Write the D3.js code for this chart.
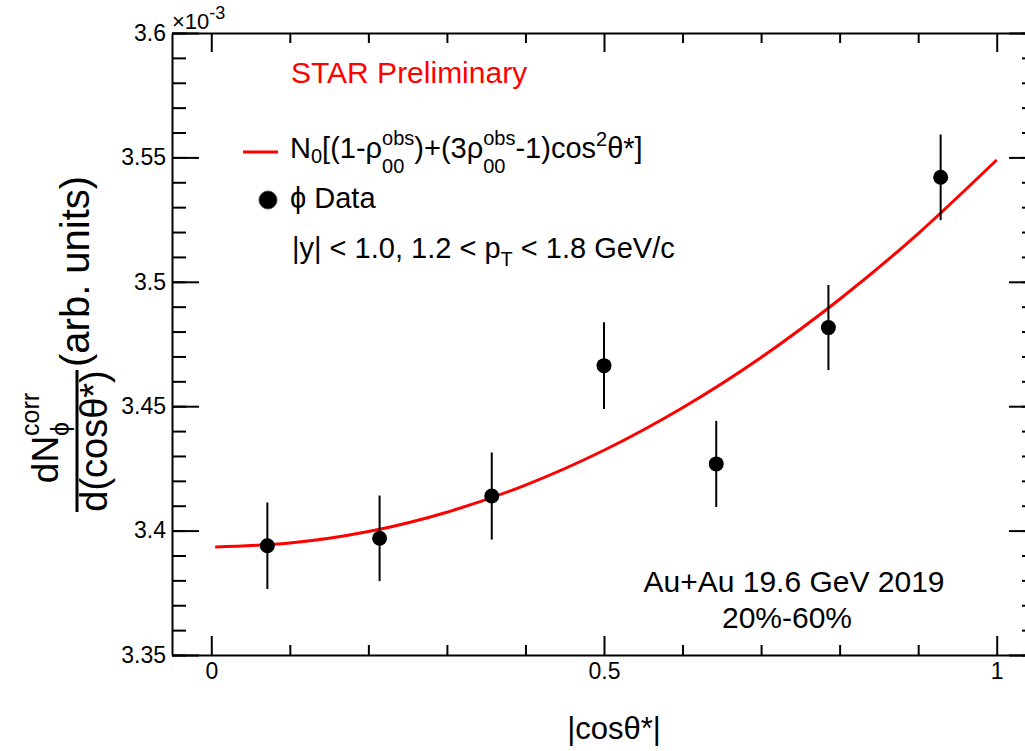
<!DOCTYPE html>
<html lang="en">
  <head>
    <meta charset="utf-8">
    <title>phi yield vs |cos theta*|</title>
    <style>
      body { margin: 0; background: #fff; }
      svg text { font-family: "Liberation Sans", Arial, Helvetica, sans-serif; white-space: pre; }
    </style>
  </head>
  <body>
    <div id="dataviz_area"></div>
    <script src="https://d3js.org/d3.v7.min.js"></script>
    <script>
      // data, y values in units of 1e-3
      var cosBins = [0.0714, 0.2143, 0.3571, 0.5, 0.6429, 0.7857, 0.9286]
      var yieldVals = [3.3939, 3.3969, 3.4139, 3.4663, 3.4268, 3.4816, 3.5420]
      var yieldErrs = [0.0174, 0.0172, 0.0175, 0.0174, 0.0173, 0.0171, 0.0172]

      // fit curve
      var fitX = [0.005, 0.1, 0.2, 0.3, 0.4, 0.5, 0.6, 0.7, 0.8, 0.9, 1.0]
      var fitY = [3.3934, 3.3950, 3.3996, 3.4074, 3.4183, 3.4323, 3.4494, 3.4696, 3.4930, 3.5194, 3.5490]

      var xTicks = [0, 0.5, 1]
      var xTickLabels = ["0", "0.5", "1"]
      var xMinor = [0.1, 0.2, 0.3, 0.4, 0.6, 0.7, 0.8, 0.9]
      var yTicks = [3.35, 3.4, 3.45, 3.5, 3.55, 3.6]
      var yTickLabels = ["3.35", "3.4", "3.45", "3.5", "3.55", "3.6"]
      var yMinor = d3.range(3.35, 3.6001, 0.01).map(function(d) { return +d.toFixed(2) })

      var W = 1025, H = 751
      var frame = {left: 172, top: 33, right: 1036, bottom: 655}

      var svg = d3.select("#dataviz_area")
        .append("svg")
          .attr("width", W)
          .attr("height", H)

      var x = d3.scaleLinear()
        .domain([-0.05, 1.05])
        .range([frame.left, frame.right])

      var y = d3.scaleLinear()
        .domain([3.35, 3.6])
        .range([frame.bottom, frame.top])

      // lays out a run of text pieces, with super/subscripts
      function rich(parent, px, py, parts, anchor) {
        var g = parent.append("g")
        var cx = 0
        parts.forEach(function(p) {
          if (p.sup !== undefined || p.sub !== undefined) {
            var w = 0
            if (p.sup !== undefined) {
              var a = g.append("text").attr("x", cx).attr("y", p.up).style("font-size", p.s + "px").text(p.sup)
              w = Math.max(w, a.node().getComputedTextLength())
            }
            if (p.sub !== undefined) {
              var b = g.append("text").attr("x", cx).attr("y", p.down).style("font-size", p.s + "px").text(p.sub)
              w = Math.max(w, b.node().getComputedTextLength())
            }
            cx += w
          } else {
            var t = g.append("text").attr("x", cx).attr("y", p.dy || 0).style("font-size", p.s + "px").text(p.t)
            cx += t.node().getComputedTextLength()
          }
        })
        var off = anchor === "middle" ? -cx / 2 : (anchor === "end" ? -cx : 0)
        g.attr("transform", "translate(" + (px + off) + "," + py + ")")
        return g
      }

      // frame axes, ticks drawn inward like ROOT
      function styleAxis(g) {
        g.selectAll("path").attr("stroke", "#000").attr("stroke-width", 2)
        g.selectAll("line").attr("stroke", "#000").attr("stroke-width", 2)
        g.selectAll("text").attr("fill", "#000").style("font-size", "23px")
          .style("font-family", '"Liberation Sans", Arial, sans-serif')
      }

      svg.append("g")
        .attr("transform", "translate(0," + frame.bottom + ")")
        .call(d3.axisBottom(x).tickValues(xTicks).tickSize(-19).tickSizeOuter(0).tickPadding(8)
          .tickFormat(function(d, i) { return xTickLabels[i] }))
        .call(styleAxis)
      svg.append("g")
        .attr("transform", "translate(0," + frame.bottom + ")")
        .call(d3.axisBottom(x).tickValues(xMinor).tickSize(-10).tickFormat(""))
        .call(styleAxis)
        .select(".domain").remove()

      svg.append("g")
        .attr("transform", "translate(0," + frame.top + ")")
        .call(d3.axisTop(x).tickValues(xTicks).tickSize(-19).tickSizeOuter(0).tickFormat(""))
        .call(styleAxis)
      svg.append("g")
        .attr("transform", "translate(0," + frame.top + ")")
        .call(d3.axisTop(x).tickValues(xMinor).tickSize(-10).tickFormat(""))
        .call(styleAxis)
        .select(".domain").remove()

      svg.append("g")
        .attr("transform", "translate(" + frame.left + ",0)")
        .call(d3.axisLeft(y).tickValues(yTicks).tickSize(-27).tickSizeOuter(0).tickPadding(6)
          .tickFormat(function(d, i) { return yTickLabels[i] }))
        .call(styleAxis)
      svg.append("g")
        .attr("transform", "translate(" + frame.left + ",0)")
        .call(d3.axisLeft(y).tickValues(yMinor).tickSize(-14).tickFormat(""))
        .call(styleAxis)
        .select(".domain").remove()

      svg.append("g")
        .attr("transform", "translate(" + frame.right + ",0)")
        .call(d3.axisRight(y).tickValues(yTicks).tickSize(-27).tickSizeOuter(0).tickFormat(""))
        .call(styleAxis)
      svg.append("g")
        .attr("transform", "translate(" + frame.right + ",0)")
        .call(d3.axisRight(y).tickValues(yMinor).tickSize(-14).tickFormat(""))
        .call(styleAxis)
        .select(".domain").remove()

      // exponent label
      rich(svg, frame.left, 29, [
        {t: "\u00d710", s: 22},
        {sup: "-3", up: -10, s: 18}
      ]).attr("fill", "#000")

      // fit curve
      var fitLine = d3.line()
        .x(function(d, i) { return x(fitX[i]) })
        .y(function(d) { return y(d) })
        .curve(d3.curveNatural)
      svg.append("path")
        .datum(fitY)
        .attr("d", fitLine)
        .attr("fill", "none")
        .attr("stroke", "#ff0000")
        .attr("stroke-width", 3)

      // data points with error bars
      var pts = svg.append("g")
      pts.selectAll("line")
        .data(yieldVals)
        .join("line")
          .attr("x1", function(d, i) { return x(cosBins[i]) })
          .attr("x2", function(d, i) { return x(cosBins[i]) })
          .attr("y1", function(d, i) { return y(d - yieldErrs[i]) })
          .attr("y2", function(d, i) { return y(d + yieldErrs[i]) })
          .attr("stroke", "#000")
          .attr("stroke-width", 2)
      pts.selectAll("circle")
        .data(yieldVals)
        .join("circle")
          .attr("cx", function(d, i) { return x(cosBins[i]) })
          .attr("cy", function(d) { return y(d) })
          .attr("r", 7.5)
          .attr("fill", "#000")

      // labels
      svg.append("text")
        .attr("x", 291)
        .attr("y", 83)
        .attr("fill", "#ff0000")
        .style("font-size", "30px")
        .text("STAR Preliminary")

      svg.append("line")
        .attr("x1", 243).attr("x2", 278)
        .attr("y1", 152).attr("y2", 152)
        .attr("stroke", "#ff0000")
        .attr("stroke-width", 3)
      rich(svg, 290, 158, [
        {t: "N", s: 29},
        {t: "0", s: 20, dy: 5},
        {t: "[(1-\u03c1", s: 29},
        {sup: "obs", sub: "00", up: -13, down: 15, s: 20},
        {t: ")+(3\u03c1", s: 29},
        {sup: "obs", sub: "00", up: -13, down: 15, s: 20},
        {t: "-1)cos", s: 29},
        {sup: "2", up: -12, s: 20},
        {t: "\u03b8*]", s: 29}
      ]).attr("fill", "#000")

      svg.append("circle")
        .attr("cx", 268).attr("cy", 200).attr("r", 9)
        .attr("fill", "#000")
        .attr("stroke", "#444").attr("stroke-width", 1)
      svg.append("text")
        .attr("x", 290).attr("y", 208)
        .style("font-size", "29px")
        .text("\u03d5 Data")

      rich(svg, 292, 258, [
        {t: "|y| < 1.0, 1.2 < p", s: 29},
        {t: "T", s: 20, dy: 8},
        {t: " < 1.8 GeV/c", s: 29}
      ]).attr("fill", "#000")

      svg.append("text")
        .attr("x", 794).attr("y", 592)
        .attr("text-anchor", "middle")
        .style("font-size", "30px")
        .text("Au+Au 19.6 GeV 2019")
      svg.append("text")
        .attr("x", 787).attr("y", 628)
        .attr("text-anchor", "middle")
        .style("font-size", "30px")
        .text("20%-60%")

      // axis titles
      svg.append("text")
        .attr("x", 614).attr("y", 739)
        .attr("text-anchor", "middle")
        .style("font-size", "31px")
        .text("|cos\u03b8*|")

      var yt = svg.append("g")
        .attr("transform", "translate(77,0) rotate(-90)")
      yt.append("line")
        .attr("x1", -512).attr("x2", -370)
        .attr("y1", 0).attr("y2", 0)
        .attr("stroke", "#000").attr("stroke-width", 3)
      rich(yt, -438, -19, [
        {t: "dN", s: 37},
        {sup: "corr", sub: "\u03d5", up: -19, down: 11, s: 25}
      ], "middle").attr("fill", "#000")
      rich(yt, -441, 30, [
        {t: "d(cos\u03b8*)", s: 38}
      ], "middle").attr("fill", "#000")
      yt.append("text")
        .attr("x", -367).attr("y", 12)
        .style("font-size", "40px")
        .text("(arb. units)")
    </script>
  </body>
</html>
